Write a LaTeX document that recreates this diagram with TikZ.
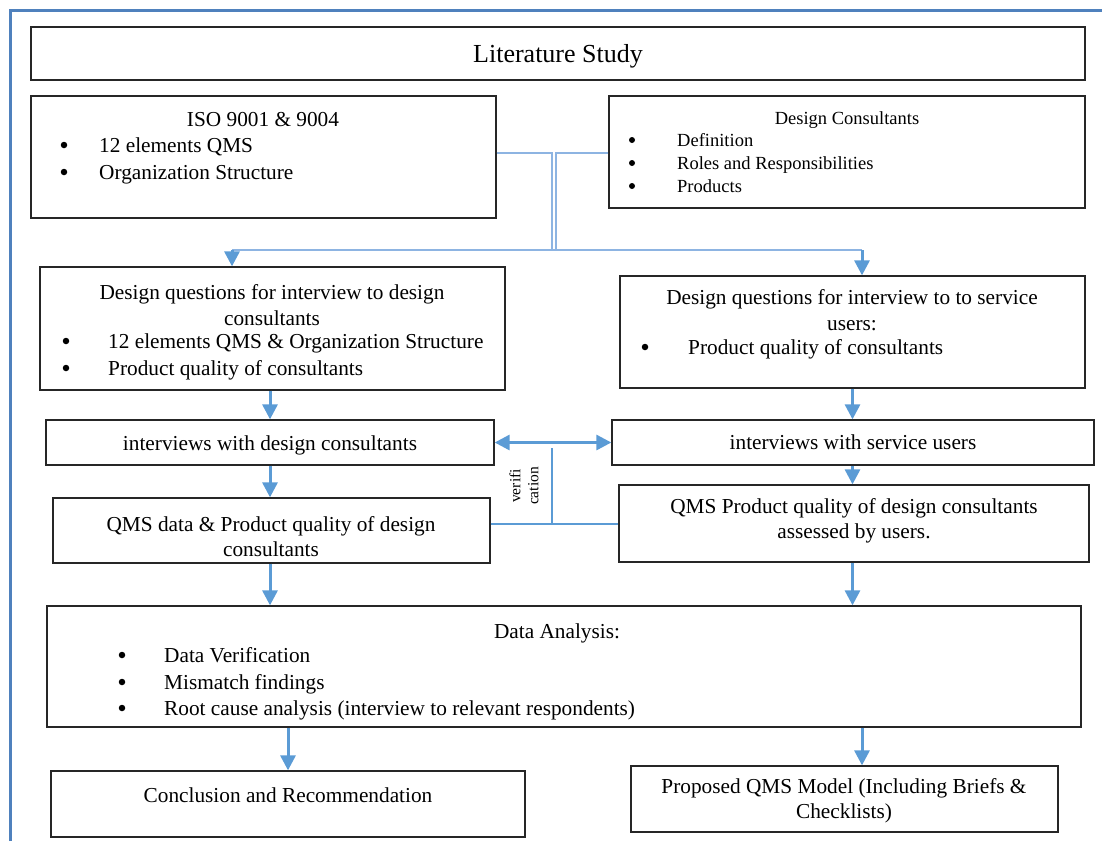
\documentclass[tikz,border=0pt]{standalone}
\usepackage{fontspec}
\setmainfont{Liberation Serif}
\usetikzlibrary{arrows.meta}
\definecolor{frameblue}{RGB}{79,129,189}
\definecolor{arrowblue}{RGB}{91,155,213}
\definecolor{lightblue}{RGB}{141,180,226}

\tikzset{
  box/.style={draw=black!85, line width=1.3pt, inner sep=0pt},
  txt/.style={inner sep=0pt, font=\fontsize{21.3}{25.5}\selectfont, text height=15pt, text depth=4pt, yshift=-2pt},
  mtxt/.style={inner sep=0pt, font=\fontsize{21.3}{25.5}\selectfont, align=center, yshift=-2pt},
  smalltxt/.style={inner sep=0pt, font=\fontsize{18.5}{22}\selectfont, text height=13pt, text depth=4pt, yshift=-2pt},
  bul/.style={circle, fill=black, inner sep=0pt, minimum size=6.5pt},
  smallbul/.style={bul, minimum size=6pt},
  arr/.style={arrowblue, line width=3pt, -{Triangle[width=15pt,length=15pt]}},
  arrboth/.style={arrowblue, line width=3pt, {Triangle[width=15pt,length=15pt]}-{Triangle[width=15pt,length=15pt]}},
  tline/.style={lightblue, line width=1.3pt},
  vline/.style={arrowblue, line width=1.6pt},
}

\begin{document}
\begin{tikzpicture}[x=1pt,y=-1pt]

    \useasboundingbox (0,0) rectangle (1102,841);

    % Frame
    \draw[frameblue, line width=3pt] (10,841) -- (10,10) -- (1102,10);

    % Boxes
    \node[box, minimum width=1054, minimum height=53] (lit) at (558,53.5) {};
    \node[box, minimum width=465, minimum height=122] (iso) at (263.5,157) {};
    \node[box, minimum width=476, minimum height=112] (dcons) at (847,152) {};
    \node[box, minimum width=465, minimum height=123] (dql) at (272.5,328.5) {};
    \node[box, minimum width=465, minimum height=112] (dqr) at (852.5,332) {};
    \node[box, minimum width=448, minimum height=45] (intl) at (270,442.5) {};
    \node[box, minimum width=482, minimum height=45] (intr) at (853,442.5) {};
    \node[box, minimum width=437, minimum height=65] (qmsl) at (271.5,530.5) {};
    \node[box, minimum width=470, minimum height=77] (qmsr) at (854,523.5) {};
    \node[box, minimum width=1034, minimum height=121] (anal) at (564,666.5) {};
    \node[box, minimum width=474, minimum height=66] (concl) at (288,804) {};
    \node[box, minimum width=427, minimum height=66] (prop) at (844.5,799) {};

    % Texts
    \node[txt, font=\fontsize{26}{30}\selectfont, text height=19pt, text depth=5pt] (litt) at (558,53) {Literature Study};

    \node[txt] (isot) at (263,119) {ISO 9001 \& 9004};
    \node[bul] (isob1) at (64,145) {};
    \node[txt, anchor=west] (iso1) at (99,145) {12 elements QMS};
    \node[bul] (isob2) at (64,172) {};
    \node[txt, anchor=west] (iso2) at (99,172) {Organization Structure};

    \node[smalltxt] (dconst) at (847,118) {Design Consultants};
    \node[smallbul] (dconsb1) at (632,140) {};
    \node[smalltxt, anchor=west] (dcons1) at (677,140) {Definition};
    \node[smallbul] (dconsb2) at (632,163) {};
    \node[smalltxt, anchor=west] (dcons2) at (677,163) {Roles and Responsibilities};
    \node[smallbul] (dconsb3) at (632,186) {};
    \node[smalltxt, anchor=west] (dcons3) at (677,186) {Products};

    \node[mtxt] (dqlt) at (272,303) {Design questions for interview to design\\consultants};
    \node[bul] (dqlb1) at (66,341) {};
    \node[txt, anchor=west] (dql1) at (108,341) {12 elements QMS \& Organization Structure};
    \node[bul] (dqlb2) at (66,368) {};
    \node[txt, anchor=west] (dql2) at (108,368) {Product quality of consultants};

    \node[mtxt] (dqrt) at (852,308) {Design questions for interview to to service\\users:};
    \node[bul] (dqrb1) at (645,347) {};
    \node[txt, anchor=west] (dqr1) at (688,347) {Product quality of consultants};

    \node[txt] (intlt) at (270,443) {interviews with design consultants};
    \node[txt] (intrt) at (853,442) {interviews with service users};

    \node[mtxt] (qmslt) at (271,534.5) {QMS data \& Product quality of design\\consultants};
    \node[mtxt] (qmsrt) at (854,519) {QMS Product quality of design consultants\\assessed by users.};

    \node[txt] (analt) at (557,631) {Data Analysis:};
    \node[bul] (analb1) at (122,655) {};
    \node[txt, anchor=west] (anal1) at (164,655) {Data Verification};
    \node[bul] (analb2) at (122,682) {};
    \node[txt, anchor=west] (anal2) at (164,682) {Mismatch findings};
    \node[bul] (analb3) at (122,708) {};
    \node[txt, anchor=west] (anal3) at (164,708) {Root cause analysis (interview to relevant respondents)};

    \node[txt] (conclt) at (288,795) {Conclusion and Recommendation};
    \node[mtxt] (propt) at (844,799) {Proposed QMS Model (Including Briefs \&\\Checklists)};

    \node[inner sep=0pt, font=\fontsize{15.5}{18}\selectfont, align=center, rotate=90] (verif) at (524,486) {verifi\\cation};

    % Joining lines from the literature
    \coordinate (ja) at (552,153);
    \coordinate (jb) at (556,153);
    \coordinate (jl) at (232,250);
    \coordinate (jr) at (862,250);
    \draw[tline] (iso.east |- ja) -- (ja) -- (ja |- jl);
    \draw[tline] (dcons.west |- jb) -- (jb) -- (jb |- jl);
    \draw[tline] (jl) -- (jr);
    \draw[arr] (jl) -- (jl |- dql.north);
    \draw[arr] (jr) -- (jr |- dqr.north);

    % Flow arrows
    \draw[arr] (dql.south -| intl) -- (intl.north);
    \draw[arr] (dqr.south) -- (dqr.south |- intr.north);
    \draw[arr] (intl.south) -- (intl.south |- qmsl.north);
    \draw[arr] (intr.south -| dqr) -- (dqr |- qmsr.north);
    \draw[arr] (qmsl.south -| intl) -- (intl |- anal.north);
    \draw[arr] (qmsr.south -| dqr) -- (dqr |- anal.north);
    \draw[arr] (anal.south -| concl) -- (concl.north);
    \draw[arr] (anal.south -| jr) -- (jr |- prop.north);

    % Verification
    \draw[arrboth] (intl.east) -- (intr.west);
    \coordinate (vt) at (552,448);
    \coordinate (vb) at (552,524);
    \draw[vline] (vt) -- (vb);
    \draw[vline] (qmsl.east |- vb) -- (qmsr.west |- vb);

\end{tikzpicture}
\end{document}
